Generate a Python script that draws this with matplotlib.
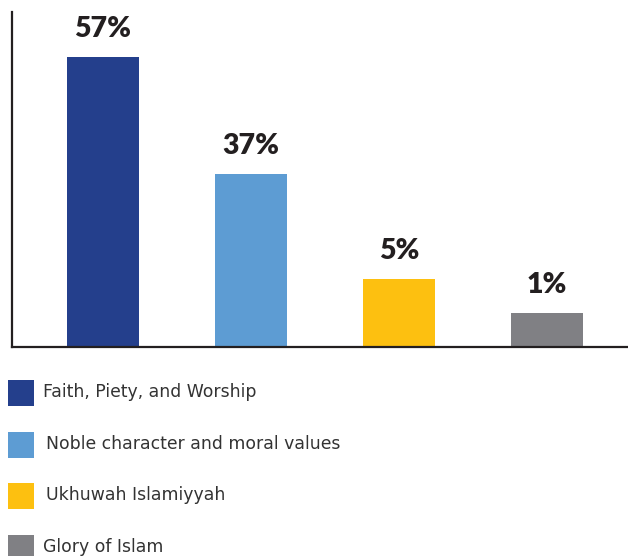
import matplotlib
matplotlib.use("Agg")
import matplotlib.pyplot as plt
from matplotlib.patches import Rectangle

categories = ["Faith, Piety, and Worship", "Noble character and moral values",
              "Ukhuwah Islamiyyah", "Glory of Islam"]
percent_labels = [57, 37, 5, 1]
# bar heights as drawn in the picture (arbitrary units, not proportional to the labels)
bar_heights = [290, 173, 68, 34]
colors = ["#243F8C", "#5D9CD3", "#FDC010", "#808084"]

W, H = 628, 556
fig = plt.figure(figsize=(W / 100, H / 100), dpi=100)
ax = fig.add_axes([12 / W, (H - 347) / H, (W - 12) / W, 335 / H])

x = list(range(len(categories)))
bars = ax.bar(x, bar_heights, width=72 / 148, color=colors)
ax.set_xlim(-91 / 148, (616 - 91) / 148)
ax.set_ylim(0, 335)

for b, p in zip(bars, percent_labels):
    ax.annotate(f"{p}%", (b.get_x() + b.get_width() / 2, b.get_height()),
                xytext=(0, 10.5), textcoords="offset points", ha="center", va="bottom",
                fontsize=20.5, fontweight="heavy", color="#231F20", family="Lato")

for s in ["top", "right"]:
    ax.spines[s].set_visible(False)
for s in ["left", "bottom"]:
    ax.spines[s].set_color("#231F20")
    ax.spines[s].set_linewidth(1.6)
ax.set_xticks([])
ax.set_yticks([])

# legend drawn by hand in figure pixel coordinates
row_step = 51.7
for i, (cat, c) in enumerate(zip(categories, colors)):
    top = 380 + i * row_step
    fig.add_artist(Rectangle((8 / W, 1 - (top + 26) / H), 26 / W, 26 / H,
                             transform=fig.transFigure, facecolor=c, edgecolor="none"))
    tx = 43 if i in (0, 3) else 46
    fig.text(tx / W, 1 - (top + 12) / H, cat, ha="left", va="center",
             fontsize=12.4, family="DejaVu Sans", color="#333333")

fig.savefig("out.png", dpi=100)
